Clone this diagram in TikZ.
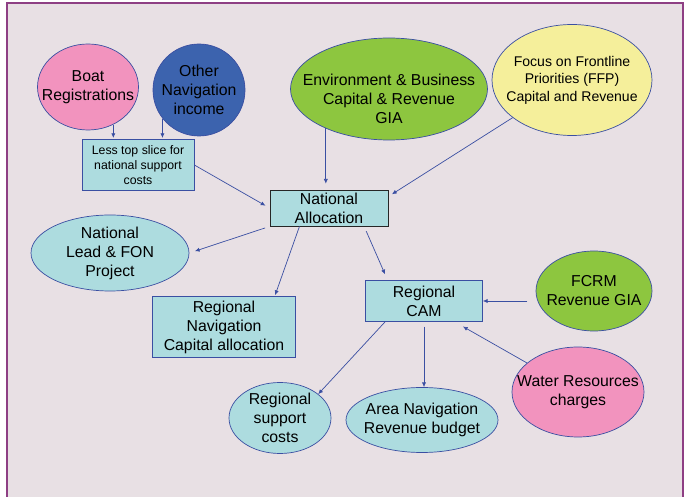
\documentclass[tikz,border=0pt]{standalone}
\usepackage{fontspec}
\setmainfont{Liberation Sans}
\usetikzlibrary{arrows.meta,shapes.geometric}
\definecolor{backc}{HTML}{E8E0E4}
\definecolor{framec}{HTML}{8E3F84}
\definecolor{edgec}{HTML}{3A4FA2}
\definecolor{pinkc}{HTML}{F293BE}
\definecolor{navyc}{HTML}{3C63AE}
\definecolor{greenc}{HTML}{8DC63F}
\definecolor{yellowc}{HTML}{F5EF9B}
\definecolor{cyanc}{HTML}{ADDCDF}
\newcommand{\mainsize}{\fontsize{13.5}{16.2}\selectfont}
\newcommand{\ffpsize}{\fontsize{12}{15}\selectfont}
\newcommand{\smallsize}{\fontsize{10.5}{12.5}\selectfont}
\tikzset{%
	bubble/.style = {ellipse, draw=edgec, line width=0.6pt, inner sep=0pt},
	panel/.style  = {rectangle, draw=edgec, line width=0.6pt, fill=cyanc, inner sep=0pt, align=center, font=\mainsize},
	words/.style  = {align=center, font=\mainsize, inner sep=0pt},
	flow/.style   = {draw=edgec, line width=0.6pt, -{Latex[length=4pt,width=3.6pt]}},
}

\begin{document}
\begin{tikzpicture}[x=0.3mm,y=-0.3mm]
	\useasboundingbox (0,0) rectangle (687,497);
	\clip (0,0) rectangle (687,497);
	\fill[white] (0,0) rectangle (687,497);
	\filldraw[fill=backc, draw=framec, line width=1.2pt] (7,3) rectangle (683,530);
	
	\node[bubble, fill=pinkc, minimum width=30.3mm, minimum height=25.8mm, label={[words]center:Boat\\Registrations}] (boat) at (88,87) {};
	\node[bubble, fill=navyc, minimum width=27.6mm, minimum height=27.6mm, label={[words]center:Other\\Navigation\\income}] (other) at (199,90) {};
	\node[bubble, fill=greenc, minimum width=59.1mm, minimum height=30.6mm, label={[words, yshift=-8.5pt]center:Environment \& Business\\Capital \& Revenue\\GIA}] (env) at (389,89) {};
	\node[bubble, fill=yellowc, minimum width=48mm, minimum height=33.3mm, label={[words, font=\ffpsize]center:Focus on Frontline\\Priorities (FFP)\\Capital and Revenue}] (ffp) at (572,80) {};
	\node[panel, font=\smallsize, minimum width=33.6mm, minimum height=15.3mm] (less) at (138,165) {Less top slice for\\national support\\costs};
	\node[panel, draw=black!85, line width=0.8pt, minimum width=35.4mm, minimum height=10.8mm] (nat) at (329,208) {National\\Allocation};
	\node[bubble, fill=cyanc, minimum width=47.4mm, minimum height=22.8mm, label={[words]center:National\\Lead \& FON\\Project}] (lead) at (110,253) {};
	\node[panel, minimum width=42.9mm, minimum height=18.3mm] (regnav) at (224,327) {Regional\\Navigation\\Capital allocation};
	\node[panel, minimum width=35.1mm, minimum height=12.3mm] (cam) at (424,301) {Regional\\CAM};
	\node[bubble, fill=greenc, minimum width=34.8mm, minimum height=24mm, label={[words]center:FCRM\\Revenue GIA}] (fcrm) at (594,291) {};
	\node[bubble, fill=pinkc, minimum width=39.6mm, minimum height=27mm, label={[words]center:Water Resources\\charges}] (water) at (578,392) {};
	\node[bubble, fill=cyanc, minimum width=45.6mm, minimum height=19.5mm, label={[words]center:Area Navigation\\Revenue budget}] (area) at (422,420) {};
	\node[bubble, fill=cyanc, minimum width=30.6mm, minimum height=21.3mm, label={[words]center:Regional\\support\\costs}] (support) at (280,418) {};
	
	\draw[flow, shorten >=1pt] (boat.-56) -- (boat.-56 |- less.north);
	\draw[flow, shorten >=1pt] (other.-142) -- (other.-142 |- less.north);
	\draw[flow, shorten >=4pt] (less.east) -- (nat.west);
	\draw[flow, shorten >=5pt] (env.-148) -- (env.-148 |- nat.north);
	\draw[flow] (ffp) -- ([shift={(3pt,-4pt)}]nat.north east);
	\draw[flow, shorten <=4pt, shorten >=5pt] (nat.south west) -- (lead.east);
	\draw[flow, shorten >=1pt] (nat.-148) -- ([xshift=-18pt]regnav.north east);
	\draw[flow] ([xshift=-19pt, yshift=-4pt]nat.south east) -- ([xshift=17pt, yshift=5pt]cam.north west);
	\draw[flow] ([xshift=17pt]cam.south west) -- (support.32);
	\draw[flow, shorten <=4pt] (cam.south) -- (cam.south |- area.north);
	\draw[flow, shorten <=7pt] (fcrm.west |- cam.east) -- (cam.east);
	\draw[flow] (water) -- ([xshift=-17pt, yshift=-4pt]cam.south east);
\end{tikzpicture}
\end{document}
